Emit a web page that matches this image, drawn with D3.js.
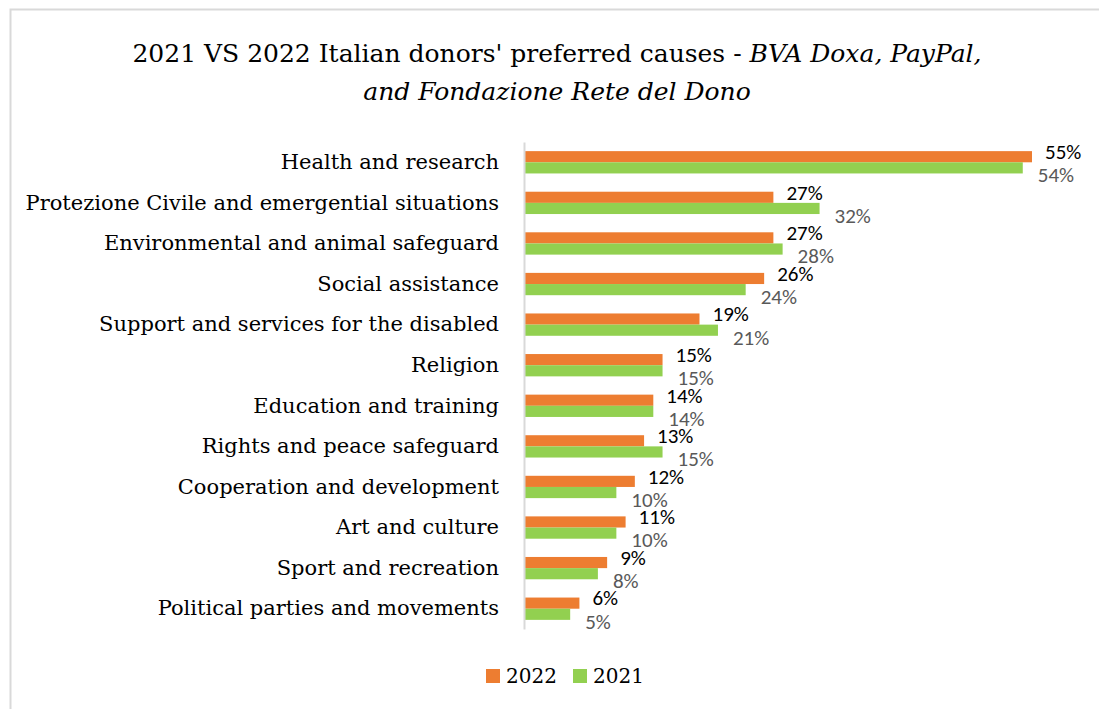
<!DOCTYPE html>
<html>
<head>
<meta charset="utf-8">
<script src="https://cdn.jsdelivr.net/npm/d3@7"></script>
<style>
  html, body { margin: 0; padding: 0; background: #fff; }
  svg { display: block; }
</style>
</head>
<body>
<script>
const WIDTH = 1099;
const HEIGHT = 709;
const MARGIN = { top: 142, right: 67, bottom: 87, left: 524 };

const categories = [
  "Health and research",
  "Protezione Civile and emergential situations",
  "Environmental and animal safeguard",
  "Social assistance",
  "Support and services for the disabled",
  "Religion",
  "Education and training",
  "Rights and peace safeguard",
  "Cooperation and development",
  "Art and culture",
  "Sport and recreation",
  "Political parties and movements"
];
const values2022 = [55, 27, 27, 26, 19, 15, 14, 13, 12, 11, 9, 6];
const values2021 = [54, 32, 28, 24, 21, 15, 14, 15, 10, 10, 8, 5];
const seriesNames = ["2022", "2021"];
const colors = { "2022": "#ED7D31", "2021": "#92D050" };
const labelColors = { "2022": "#000000", "2021": "#595959" };

const SERIF = "'Palatino Linotype', 'Book Antiqua', Palatino, 'DejaVu Serif', serif";
const SANS = "Calibri, Carlito, 'Open Sans', sans-serif";

const rows = categories.map((name, i) => ({
  name,
  "2022": values2022[i],
  "2021": values2021[i]
}));

const svg = d3.select("body").append("svg")
  .attr("width", WIDTH)
  .attr("height", HEIGHT);

// chart area border (right and bottom run off the picture)
svg.append("rect")
  .attr("x", 10.5).attr("y", 9.5)
  .attr("width", WIDTH + 20).attr("height", HEIGHT + 20)
  .attr("fill", "none")
  .attr("stroke", "#d9d9d9")
  .attr("stroke-width", 2);

// title
const title = svg.append("text")
  .attr("text-anchor", "middle")
  .attr("font-family", SERIF)
  .attr("font-size", 25)
  .attr("fill", "#000");
title.append("tspan")
  .attr("x", 557).attr("y", 62)
  .text("2021 VS 2022 Italian donors' preferred causes - ")
  .append("tspan")
  .attr("font-style", "italic")
  .text("BVA Doxa, PayPal,");
title.append("tspan")
  .attr("x", 557).attr("y", 100)
  .attr("font-style", "italic")
  .text("and Fondazione Rete del Dono");

const xScale = d3.scaleLinear()
  .domain([0, 55])
  .range([MARGIN.left, 1032]);

const yScale = d3.scaleBand()
  .domain(categories)
  .range([MARGIN.top, HEIGHT - MARGIN.bottom + 7])
  .paddingInner(0.45)
  .paddingOuter(0.225);

const ySub = d3.scaleBand()
  .domain(seriesNames)
  .range([0, yScale.bandwidth()]);

const groups = svg.append("g")
  .selectAll("g")
  .data(rows)
  .join("g")
  .attr("transform", d => `translate(0,${yScale(d.name)})`);

groups.selectAll("rect")
  .data(d => seriesNames.map(s => ({ s, v: d[s] })))
  .join("rect")
  .attr("x", xScale(0))
  .attr("y", d => ySub(d.s))
  .attr("width", d => xScale(d.v) - xScale(0))
  .attr("height", ySub.bandwidth())
  .attr("fill", d => colors[d.s]);

// value labels, nudged apart like the original
groups.selectAll("text.value")
  .data(d => seriesNames.map(s => ({ s, v: d[s] })))
  .join("text")
  .attr("class", "value")
  .attr("x", d => xScale(d.v) + (d.s === "2022" ? 13 : 15))
  .attr("y", d => ySub(d.s) + ySub.bandwidth() / 2 + (d.s === "2022" ? -5 : 7))
  .attr("dy", "0.35em")
  .attr("font-family", SANS)
  .attr("font-size", 21)
  .attr("fill", d => labelColors[d.s])
  .text(d => d.v + "%");

// category axis
const yAxis = d3.axisLeft(yScale).tickSize(0).tickPadding(25);
const axisG = svg.append("g")
  .attr("transform", `translate(${MARGIN.left},0)`)
  .call(yAxis);
axisG.select(".domain")
  .attr("stroke", "#d9d9d9")
  .attr("stroke-width", 2);
axisG.selectAll(".tick text")
  .attr("font-family", SERIF)
  .attr("font-size", 21)
  .attr("fill", "#000");

// legend
const legend = svg.append("g")
  .attr("transform", "translate(486,669)");
const legendItems = legend.selectAll("g")
  .data(seriesNames)
  .join("g")
  .attr("transform", (d, i) => `translate(${i * 87},0)`);
legendItems.append("rect")
  .attr("width", 14).attr("height", 14)
  .attr("fill", d => colors[d]);
legendItems.append("text")
  .attr("x", 20).attr("y", 7)
  .attr("dy", "0.35em")
  .attr("font-family", SERIF)
  .attr("font-size", 20)
  .attr("fill", "#000")
  .text(d => d);
</script>
</body>
</html>
